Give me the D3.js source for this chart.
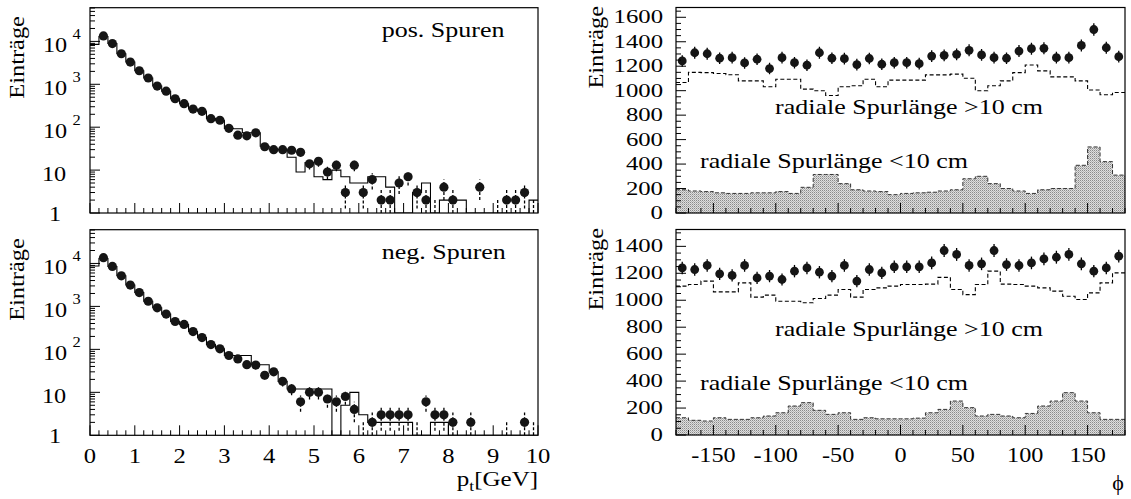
<!DOCTYPE html>
<html><head><meta charset="utf-8">
<script src="https://cdn.jsdelivr.net/npm/d3@7"></script>
<style>body{margin:0;background:#fff}svg{display:block}</style>
</head><body>
<svg id="c" width="1131" height="499"></svg>
<script>
// ---------------- DATA ----------------
const ptCenters = [0.1,0.3,0.5,0.7,0.9,1.1,1.3,1.5,1.7,1.9,2.1,2.3,2.5,2.7,2.9,3.1,3.3,3.5,3.7,3.9,
  4.1,4.3,4.5,4.7,4.9,5.1,5.3,5.5,5.7,5.9,6.1,6.3,6.5,6.7,6.9,7.1,7.3,7.5,7.7,7.9,
  8.1,8.3,8.5,8.7,8.9,9.1,9.3,9.5,9.7,9.9];
const posData = [0,13400,8900,5150,3300,2070,1400,910,690,460,353,265,235,158,145,94,65,63,74,35,
  30,30,29,26,14,16,9,13,3,13,3,6,2,2,5,7,3,2,1,4,2,0,0,4,0,1,2,2,3,1];
const posMC = [8500,13000,8900,5150,3300,2070,1400,910,690,460,353,265,235,158,145,94,92,74,74,36,
  30,30,20,9,15,7,6,10,7,5,5,7,7,4,1,1,3,5,0,2,2,2,1,1,1,1,1,1,1,2];
const negData = [0,13600,8500,5150,3140,2100,1320,927,662,445,380,260,188,129,103,72,60,44,43,25,
  30,18,12,6,10,10,7,6,8,4,1,2,3,3,3,3,1,6,3,3,2,0,2,0,0,0,1,0,2,1];
const negMC = [8700,13000,8500,5150,3140,2100,1320,927,662,445,380,260,188,129,103,72,72,72,44,44,
  30,18,12,12,12,12,12,0,5,10,3,2,2,2,2,2,1,1,2,2,1,1,1,1,1,1,1,1,1,1];

const phiCenters = [-175,-165,-155,-145,-135,-125,-115,-105,-95,-85,-75,-65,-55,-45,-35,-25,-15,-5,
  5,15,25,35,45,55,65,75,85,95,105,115,125,135,145,155,165,175];
const phiTopData = [1243,1310,1302,1265,1270,1227,1257,1181,1270,1229,1208,1310,1265,1262,1213,1263,1216,1229,
  1229,1221,1283,1289,1297,1330,1292,1270,1265,1324,1343,1346,1270,1270,1370,1500,1351,1278];
const phiTopLong = [1067,1150,1148,1140,1130,1080,1080,1032,1094,1094,1013,1000,960,1032,1040,1094,1032,1086,
  1086,1086,1129,1129,1135,1102,1000,1040,1080,1148,1210,1162,1113,1113,1080,1005,967,985];
const phiTopShort = [190,180,175,165,160,160,165,165,175,160,210,315,315,240,190,180,175,150,
  160,165,170,180,190,280,300,240,200,180,160,190,200,200,390,540,420,310];
const phiBotData = [1240,1228,1258,1196,1184,1258,1166,1179,1154,1216,1240,1208,1179,1258,1142,1228,1203,1248,
  1248,1248,1277,1369,1340,1258,1270,1369,1265,1258,1277,1307,1319,1340,1270,1216,1240,1327];
const phiBotLong = [1105,1117,1142,1062,1062,1129,1023,1038,993,993,981,1013,1038,1080,1023,1080,1092,1105,
  1117,1117,1120,1170,1080,1042,1117,1216,1120,1117,1105,1092,1068,1030,1005,1055,1129,1203];
const phiBotShort = [128,109,104,128,116,116,128,141,165,215,240,183,153,165,116,128,120,120,
  120,125,165,190,252,203,141,153,141,128,160,215,252,314,252,165,116,116];

const ptTickLabels = ["0","1","2","3","4","5","6","7","8","9","10"];
const phiTickLabels = ["-150","-100","-50","0","50","100","150"];
const topRightYLabels = ["0","200","400","600","800","1000","1200","1400","1600"];
const botRightYLabels = ["0","200","400","600","800","1000","1200","1400"];
const logExps = [1,2,3,4];

// ---------------- DRAW ----------------
const svg = d3.select('#c');
const FONT = '"Liberation Serif","Times New Roman",serif';
const defs = svg.append('defs');
const pat = defs.append('pattern').attr('id','stip').attr('patternUnits','userSpaceOnUse')
  .attr('width',2).attr('height',2);
pat.append('rect').attr('width',2).attr('height',2).attr('fill','#dedede');
pat.append('rect').attr('x',0).attr('y',0).attr('width',1).attr('height',1).attr('fill','#8a8a8a');
pat.append('rect').attr('x',1).attr('y',1).attr('width',1).attr('height',1).attr('fill','#b4b4b4');

function txt(g, x, y, s, o = {}) {
  return g.append('text')
    .attr('transform', `translate(${x},${y})` + (o.rot ? ` rotate(${o.rot})` : '') + ` scale(${o.sx || 1.25},1)`)
    .attr('font-family', FONT).attr('font-size', o.fs || 20)
    .attr('text-anchor', o.anchor || 'start').attr('fill', '#000').text(s);
}

let clipN = 0;
function clip(x0, y0, x1, y1) {
  const id = 'cl' + (clipN++);
  defs.append('clipPath').attr('id', id).append('rect')
    .attr('x', x0).attr('y', y0).attr('width', x1 - x0).attr('height', y1 - y0);
  return `url(#${id})`;
}

function stepPoints(centers, vals, half, floor) {
  const pts = [];
  centers.forEach((c, i) => {
    const v = Math.max(vals[i], floor);
    pts.push([c - half, v], [c + half, v]);
  });
  return pts;
}

// ---- left (pt) panels ----
function ptPanel(top, bottom, data, mc, label, showX) {
  const x = d3.scaleLinear().domain([0, 10]).range([90, 538]);
  const y = d3.scaleLog().domain([1, 6.1e4]).range([bottom, top]);
  const g = svg.append('g');
  const pg = g.append('g').attr('clip-path', clip(90, top, 538, bottom));
  const line = d3.line().x(d => x(d[0])).y(d => y(d[1]));
  pg.append('path').attr('d', line(stepPoints(ptCenters, mc, 0.1, 1)))
    .attr('fill', 'none').attr('stroke', '#000').attr('stroke-width', 1.1);
  ptCenters.forEach((c, i) => {
    const v = data[i];
    if (v <= 0) return;
    const e = Math.sqrt(v);
    pg.append('line').attr('x1', x(c)).attr('x2', x(c))
      .attr('y1', y(Math.max(v - e, 1))).attr('y2', y(v + e))
      .attr('stroke', '#000').attr('stroke-width', 1.3).attr('stroke-dasharray', '3,2');
  });
  pg.selectAll('circle.p').data(ptCenters.map((c, i) => [c, data[i]]).filter(d => d[1] > 1))
    .enter().append('circle').attr('cx', d => x(d[0])).attr('cy', d => y(d[1])).attr('r', 4.6)
    .attr('fill', '#151515');
  x.ticks(50).forEach(t => {
    const major = Math.abs(t - Math.round(t)) < 1e-6;
    g.append('line').attr('x1', x(t)).attr('x2', x(t)).attr('y1', bottom).attr('y2', bottom - (major ? 10 : 5))
      .attr('stroke', '#000').attr('stroke-width', 1);
  });
  y.ticks().forEach(t => {
    const major = Math.abs(Math.log10(t) - Math.round(Math.log10(t))) < 1e-6;
    g.append('line').attr('x1', 90).attr('x2', 90 + (major ? 10 : 5)).attr('y1', y(t)).attr('y2', y(t))
      .attr('stroke', '#000').attr('stroke-width', 1);
  });
  txt(g, 55, y(1) + 8, '1', { fs: 22, sx: 1.1, anchor: 'middle' });
  txt(g, 42, y(10) + 11, '10', { fs: 22, sx: 1.1 });
  logExps.filter(e => e > 1).forEach(e => {
    txt(g, 43, y(Math.pow(10, e)) + 10.5, '10', { fs: 22, sx: 1.1 });
    txt(g, 72.5, y(Math.pow(10, e)) - 2, String(e), { fs: 15, sx: 1.1 });
  });
  txt(g, 23.5, (top + bottom) / 2 - 53, 'Einträge', { rot: -90, anchor: 'middle', sx: 1.22 });
  txt(g, 381.7, top + 29.6, label, { sx: 1.3 });
  if (showX) {
    ptTickLabels.forEach((s, i) => txt(g, x(i), 462.5, s, { fs: 22, sx: 1.12, anchor: 'middle' }));
    const t = g.append('text').attr('transform', 'translate(538,486) scale(1.25,1)')
      .attr('font-family', FONT).attr('font-size', 20).attr('text-anchor', 'end');
    t.append('tspan').text('p');
    t.append('tspan').attr('font-size', 14).attr('dy', 5).text('t');
    t.append('tspan').attr('dy', -5).text('[GeV]');
  }
  g.append('rect').attr('x', 90).attr('y', top).attr('width', 448).attr('height', bottom - top)
    .attr('fill', 'none').attr('stroke', '#000').attr('stroke-width', 1.2);
}

// ---- right (phi) panels ----
function phiPanel(top, bottom, ymax, data, longH, shortH, yLabels, showX) {
  const x = d3.scaleLinear().domain([-180, 180]).range([676, 1125]);
  const y = d3.scaleLinear().domain([0, ymax]).range([bottom, top]);
  const g = svg.append('g');
  const pg = g.append('g').attr('clip-path', clip(676, top, 1125, bottom));
  const sp = stepPoints(phiCenters, shortH, 5, 0);
  pg.append('path').attr('d', d3.area().x(d => x(d[0])).y0(y(0)).y1(d => y(d[1]))(sp))
    .attr('fill', 'url(#stip)');
  const line = d3.line().x(d => x(d[0])).y(d => y(d[1]));
  pg.append('path').attr('d', line(sp)).attr('fill', 'none').attr('stroke', '#333')
    .attr('stroke-width', 1).attr('stroke-dasharray', '4,2');
  pg.append('path').attr('d', line(stepPoints(phiCenters, longH, 5, 0))).attr('fill', 'none')
    .attr('stroke', '#000').attr('stroke-width', 1.1).attr('stroke-dasharray', '4,2.5');
  phiCenters.forEach((c, i) => {
    const v = data[i], e = Math.sqrt(v);
    pg.append('line').attr('x1', x(c)).attr('x2', x(c)).attr('y1', y(v - e) + 1.5).attr('y2', y(v + e) - 1.5)
      .attr('stroke', '#000').attr('stroke-width', 1.3);
  });
  pg.selectAll('circle.p').data(phiCenters.map((c, i) => [c, data[i]])).enter().append('circle')
    .attr('cx', d => x(d[0])).attr('cy', d => y(d[1])).attr('r', 4.4).attr('fill', '#151515');
  x.ticks(36).forEach(t => {
    const major = t % 50 === 0;
    g.append('line').attr('x1', x(t)).attr('x2', x(t)).attr('y1', bottom).attr('y2', bottom - (major ? 10 : 5))
      .attr('stroke', '#000');
  });
  d3.range(0, ymax, 50).forEach(t => {
    const major = t % 200 === 0;
    g.append('line').attr('x1', 676).attr('x2', 676 + (major ? 10 : 5)).attr('y1', y(t)).attr('y2', y(t))
      .attr('stroke', '#000');
  });
  yLabels.forEach(s => txt(g, 663, y(+s) + 6, s, { fs: 19.5, sx: 1.27, anchor: 'end' }));
  txt(g, 603, (top + bottom) / 2 - 63, 'Einträge', { rot: -90, anchor: 'middle', sx: 1.22 });
  txt(g, 775, top + 106, 'radiale Spurlänge >10 cm', { sx: 1.3 });
  txt(g, 700, top + 160.5, 'radiale Spurlänge <10 cm', { sx: 1.3 });
  if (showX) {
    phiTickLabels.forEach(s => txt(g, x(+s), 461.5, s, { fs: 22, sx: 1.1, anchor: 'middle' }));
    txt(g, 1118, 490, '\u03D5', { fs: 22, sx: 1.0, anchor: 'middle' });
  }
  g.append('rect').attr('x', 676).attr('y', top).attr('width', 449).attr('height', bottom - top)
    .attr('fill', 'none').attr('stroke', '#000').attr('stroke-width', 1.2);
}

ptPanel(7.7, 213, posData, posMC, 'pos. Spuren', false);
ptPanel(229.7, 435.3, negData, negMC, 'neg. Spuren', true);
phiPanel(7.5, 213, 1680, phiTopData, phiTopLong, phiTopShort, topRightYLabels, false);
phiPanel(229.5, 435, 1525, phiBotData, phiBotLong, phiBotShort, botRightYLabels, true);
</script>
</body></html>
